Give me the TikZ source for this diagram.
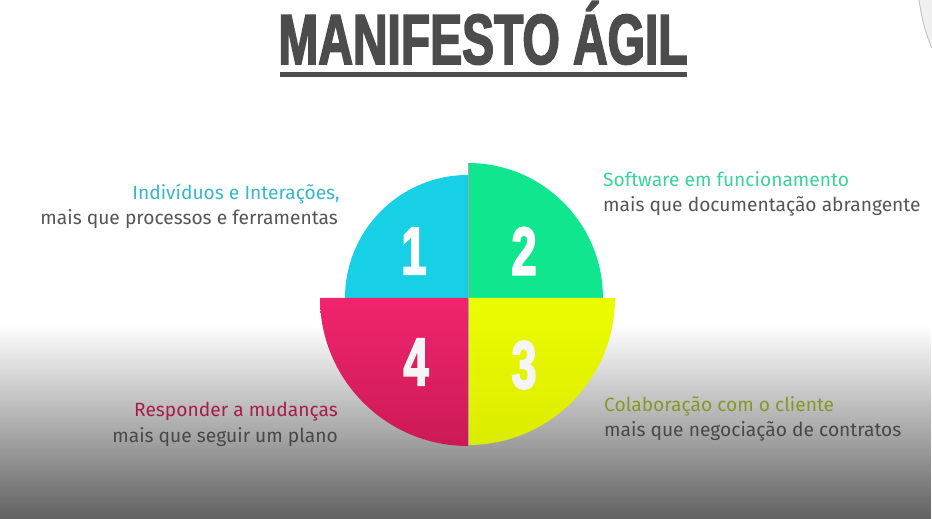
\documentclass[tikz,border=0pt]{standalone}
\usepackage{fontspec}
\setmainfont{Fira Sans}
\newfontfamily\titlefont{Liberation Sans}[FakeStretch=0.675, FakeBold=2.2]
\newfontfamily\numfont{Liberation Sans}[FakeStretch=0.66, FakeBold=2.5]
\usetikzlibrary{fadings}
\definecolor{qcyan}{HTML}{18D0E6}
\definecolor{qgreen}{HTML}{10E68E}
\definecolor{qyellow}{HTML}{ECFC00}
\definecolor{qyellowlow}{HTML}{DCEC00}
\definecolor{qpink}{HTML}{F0246E}
\definecolor{qpinklow}{HTML}{CC1A56}
\definecolor{tcyan}{HTML}{36B8C9}
\definecolor{tgreen}{HTML}{38D49A}
\definecolor{tpink}{HTML}{A81C4C}
\definecolor{tolive}{HTML}{84982A}
\definecolor{tgray}{HTML}{555555}
\definecolor{titlegray}{HTML}{4C4C4C}
\tikzfading[name=darkdown, top color=transparent!100, bottom color=transparent!38]
\tikzset{
  body/.style={inner sep=0pt, font=\fontsize{19.2}{22}\selectfont},
  numtxt/.style={inner sep=0pt, font=\numfont\bfseries\fontsize{68}{68}\selectfont},
  seam/.style={black!35, line width=1.2pt},
}
\begin{document}
\begin{tikzpicture}[x=1pt,y=1pt]
\fill[white] (0,0) rectangle (932,519);
\useasboundingbox (0,0) rectangle (932,519);
% faint shape at top right corner
\fill[gray!12] (919,519) .. controls (922,499) and (926,484) .. (932,471) -- (932,519) -- cycle;
\draw[gray!45, line width=1pt] (919,519) .. controls (922,499) and (926,484) .. (932,471);
% gradient background
\fill[black, path fading=darkdown] (0,0) rectangle (932,194);
% title
\node[inner sep=0pt, anchor=base, text=titlegray, font=\titlefont\bfseries\fontsize{71}{80}\selectfont] (title) at (483,455) {MANIFESTO ÁGIL};
\fill[titlegray] (280,442) rectangle (687,447);
% quadrants
\coordinate (c) at (468,221);
\fill[qcyan] (c) -- ++(-123,0) arc[start angle=180, end angle=90, radius=123] -- cycle;
\fill[qgreen] (c) -- ++(135,0) arc[start angle=0, end angle=90, radius=135] -- cycle;
\draw[seam] (468.6,222) -- (468.6,356);
\shade[top color=qyellow, bottom color=qyellowlow] (c) -- ++(147,0) arc[start angle=0, end angle=-90, radius=147] -- cycle;
\shade[top color=qpink, bottom color=qpinklow] (c) -- ++(-148,0) arc[start angle=180, end angle=270, radius=148] -- cycle;
\draw[seam] (468.6,220) -- (468.6,74);
% numbers
\node[numtxt, text=white] (n1) at (414,268) {1};
\node[numtxt, text=white] (n2) at (524,268) {2};
\node[numtxt, text=white!92!gray] (n4) at (416,157) {4};
\node[numtxt, text=white!92!gray] (n3) at (524,154) {3};
% texts
\node[body, anchor=base east, text=tcyan] (t1a) at (340,319) {Indivíduos e Interações,};
\node[body, anchor=base east, text=tgray] (t1b) at (338,294) {mais que processos e ferramentas};
\node[body, anchor=base west, text=tgreen] (t2a) at (603,332) {Software em funcionamento};
\node[body, anchor=base west, text=tgray] (t2b) at (603,307) {mais que documentação abrangente};
\node[body, anchor=base east, text=tpink] (t4a) at (338,102) {Responder a mudanças};
\node[body, anchor=base east, text=tgray!85!black] (t4b) at (338,76) {mais que seguir um plano};
\node[body, anchor=base west, text=tolive] (t3a) at (604,107) {Colaboração com o cliente};
\node[body, anchor=base west, text=tgray!85!black] (t3b) at (604,82) {mais que negociação de contratos};
\end{tikzpicture}
\end{document}
